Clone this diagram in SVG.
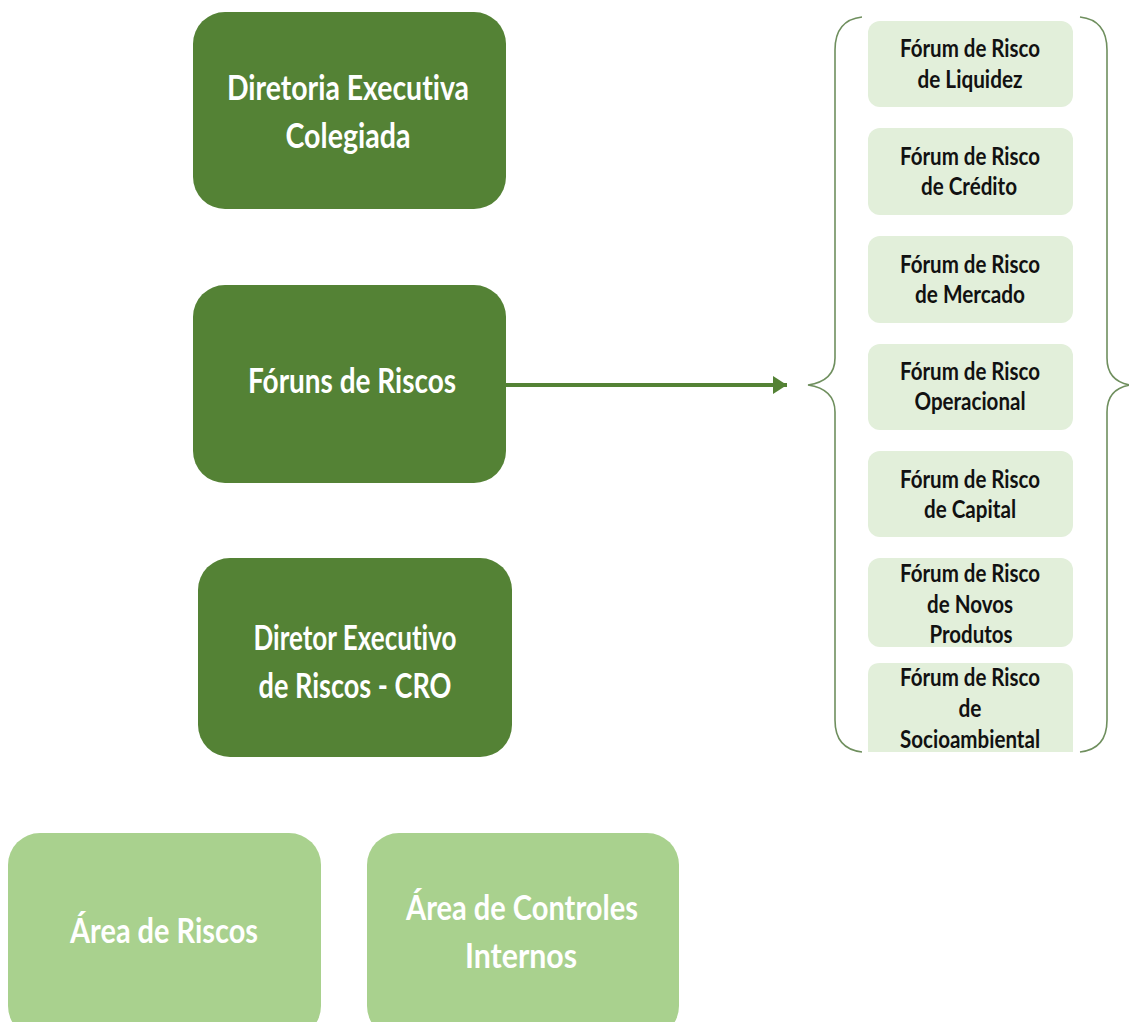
<svg xmlns="http://www.w3.org/2000/svg" width="1129" height="1022" viewBox="0 0 1129 1022">
<style>
.dark{fill:#548235}
.light{fill:#A9D18E}
.pale{fill:#E2EFDA}
.big{font-family:Lato,"Liberation Sans",sans-serif;font-weight:bold;font-size:34px;fill:#ffffff;text-anchor:middle;font-variant-ligatures:none}
.small{font-family:Lato,"Liberation Sans",sans-serif;font-weight:bold;font-size:24px;fill:#111111;text-anchor:middle;font-variant-ligatures:none}
.brace{fill:none;stroke:#6F8F5E;stroke-width:1.6}
.conn{stroke:#548235;stroke-width:4;fill:none}
</style>
<defs>
<marker id="arrow" markerUnits="userSpaceOnUse" markerWidth="16" markerHeight="18" refX="14" refY="9" orient="auto">
<path d="M0,0 L14,9 L0,18 Z" fill="#548235"/>
</marker>
</defs>
<rect width="1129" height="1022" fill="#ffffff"/>

<g id="diretoria-executiva">
<rect class="dark" x="193" y="12" width="313" height="197" rx="32"/>
<text class="big" x="348" y="100" textLength="242" lengthAdjust="spacingAndGlyphs">Diretoria Executiva</text>
<text class="big" x="348" y="148" textLength="125" lengthAdjust="spacingAndGlyphs">Colegiada</text>
</g>

<g id="foruns-de-riscos">
<rect class="dark" x="193" y="285" width="313" height="198" rx="32"/>
<text class="big" x="352" y="393" textLength="208" lengthAdjust="spacingAndGlyphs">Fóruns de Riscos</text>
</g>

<g id="diretor-executivo">
<rect class="dark" x="198" y="558" width="314" height="199" rx="32"/>
<text class="big" x="355" y="650" textLength="203" lengthAdjust="spacingAndGlyphs">Diretor Executivo</text>
<text class="big" x="355" y="698" textLength="193" lengthAdjust="spacingAndGlyphs">de Riscos - CRO</text>
</g>

<g id="area-de-riscos">
<rect class="light" x="8" y="833" width="313" height="205" rx="32"/>
<text class="big" x="164" y="943" textLength="188" lengthAdjust="spacingAndGlyphs">Área de Riscos</text>
</g>

<g id="area-de-controles">
<rect class="light" x="367" y="833" width="312" height="205" rx="32"/>
<text class="big" x="522" y="920" textLength="232" lengthAdjust="spacingAndGlyphs">Área de Controles</text>
<text class="big" x="521" y="968" textLength="112" lengthAdjust="spacingAndGlyphs">Internos</text>
</g>

<g id="forum-liquidez">
<rect class="pale" x="868" y="21" width="205" height="86" rx="12"/>
<text class="small" x="970" y="57" textLength="140" lengthAdjust="spacingAndGlyphs">Fórum de Risco</text>
<text class="small" x="970" y="88" textLength="105" lengthAdjust="spacingAndGlyphs">de Liquidez</text>
</g>

<g id="forum-credito">
<rect class="pale" x="868" y="128" width="205" height="87" rx="12"/>
<text class="small" x="970" y="165" textLength="140" lengthAdjust="spacingAndGlyphs">Fórum de Risco</text>
<text class="small" x="969" y="195" textLength="96" lengthAdjust="spacingAndGlyphs">de Crédito</text>
</g>

<g id="forum-mercado">
<rect class="pale" x="868" y="236" width="205" height="87" rx="12"/>
<text class="small" x="970" y="273" textLength="140" lengthAdjust="spacingAndGlyphs">Fórum de Risco</text>
<text class="small" x="970" y="303" textLength="110" lengthAdjust="spacingAndGlyphs">de Mercado</text>
</g>

<g id="forum-operacional">
<rect class="pale" x="868" y="344" width="205" height="86" rx="12"/>
<text class="small" x="970" y="380" textLength="140" lengthAdjust="spacingAndGlyphs">Fórum de Risco</text>
<text class="small" x="970" y="410" textLength="111" lengthAdjust="spacingAndGlyphs">Operacional</text>
</g>

<g id="forum-capital">
<rect class="pale" x="868" y="451" width="205" height="86" rx="12"/>
<text class="small" x="970" y="488" textLength="140" lengthAdjust="spacingAndGlyphs">Fórum de Risco</text>
<text class="small" x="970" y="518" textLength="92" lengthAdjust="spacingAndGlyphs">de Capital</text>
</g>

<g id="forum-novos-produtos">
<rect class="pale" x="868" y="558" width="205" height="89" rx="12"/>
<text class="small" x="970" y="582" textLength="140" lengthAdjust="spacingAndGlyphs">Fórum de Risco</text>
<text class="small" x="970" y="613" textLength="86" lengthAdjust="spacingAndGlyphs">de Novos</text>
<text class="small" x="971" y="643" textLength="83" lengthAdjust="spacingAndGlyphs">Produtos</text>
</g>

<g id="forum-socioambiental">
<path class="pale" d="M880,663 H1061 Q1073,663 1073,675 V752 H868 V675 Q868,663 880,663 Z"/>
<text class="small" x="970" y="686" textLength="140" lengthAdjust="spacingAndGlyphs">Fórum de Risco</text>
<text class="small" x="970" y="717" textLength="23" lengthAdjust="spacingAndGlyphs">de</text>
<text class="small" x="970" y="748" textLength="140" lengthAdjust="spacingAndGlyphs">Socioambiental</text>
</g>

<g id="braces">
<path class="brace" d="M862,17 Q835,20 835,50 L835,358 Q835,381 808,385 Q835,389 835,412 L835,720 Q835,749 862,752"/>
<path class="brace" d="M1080,17 Q1107,20 1107,50 L1107,358 Q1107,381 1130,385 Q1107,389 1107,412 L1107,720 Q1107,749 1080,752"/>
</g>

<g id="connectors">
<line class="conn" x1="506" y1="385" x2="787" y2="385" marker-end="url(#arrow)"/>
</g>
</svg>
